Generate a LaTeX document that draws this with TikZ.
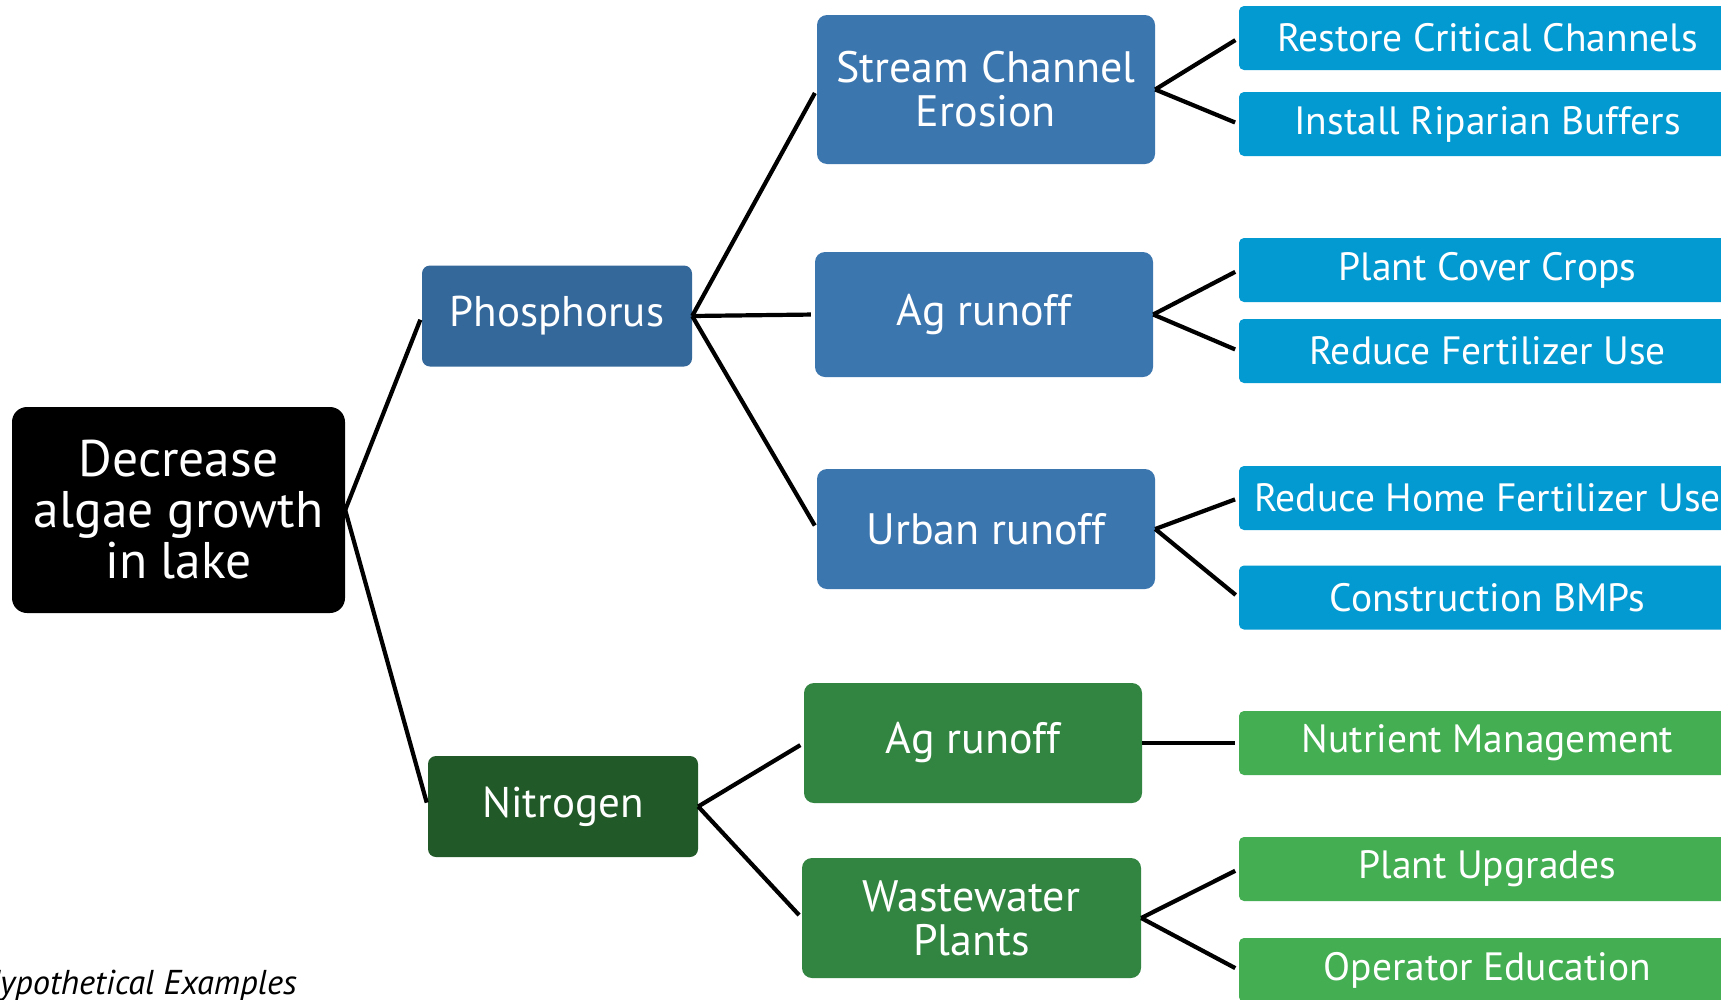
\documentclass[tikz,border=0pt]{standalone}
\usepackage{fontspec}
\setmainfont{PT Sans}
\definecolor{pblue}{HTML}{34679A}
\definecolor{mblue}{HTML}{3C76AF}
\definecolor{cyanleaf}{HTML}{0399D1}
\definecolor{ngreen}{HTML}{215A28}
\definecolor{mgreen}{HTML}{328541}
\definecolor{lgreen}{HTML}{43AE52}
\begin{document}
\begin{tikzpicture}[x=1pt,y=-1pt,
  rootbox/.style={fill=black, text=white, rounded corners=15pt, align=center,
    font=\fontsize{51.5}{51}\selectfont, minimum width=333pt, minimum height=206pt, inner sep=0pt},
  lvlone/.style={rounded corners=8pt, text=white, align=center,
    font=\fontsize{43}{44}\selectfont, minimum width=270pt, minimum height=101pt, inner sep=0pt},
  lvltwo/.style={rounded corners=10pt, text=white, align=center,
    font=\fontsize{44}{44}\selectfont, minimum width=338pt, minimum height=120pt, inner sep=0pt},
  leaf/.style={rounded corners=5pt, text=white, align=center,
    font=\fontsize{39.5}{40}\selectfont, minimum width=497pt, minimum height=64pt, inner sep=0pt},
  link/.style={line width=4.2pt, shorten >=4pt}]
\fill[white] (0,0) rectangle (1721,999);
\useasboundingbox (0,0) rectangle (1721,999);

\node[rootbox] (root) at (178.5,510) {Decrease\\algae growth\\in lake};

\node[lvlone, fill=pblue] (P) at (557,316) {Phosphorus};
\node[lvlone, fill=ngreen] (N) at (563,806.5) {Nitrogen};

\node[lvltwo, fill=mblue, minimum height=149pt] (S) at (986,89.5) {Stream Channel\\Erosion};
\node[lvltwo, fill=mblue, minimum height=125pt] (AP) at (984,314.5) {Ag runoff};
\node[lvltwo, fill=mblue] (U) at (986,529) {Urban runoff};
\node[lvltwo, fill=mgreen] (AN) at (973,743) {Ag runoff};
\node[lvltwo, fill=mgreen, minimum width=339pt] (W) at (971.5,918) {Wastewater\\Plants};

\node[leaf, fill=cyanleaf] (l1) at (1487.5,38) {Restore Critical Channels};
\node[leaf, fill=cyanleaf] (l2) at (1487.5,124) {Install Riparian Buffers};
\node[leaf, fill=cyanleaf] (l3) at (1487.5,270) {Plant Cover Crops};
\node[leaf, fill=cyanleaf] (l4) at (1487.5,351) {Reduce Fertilizer Use};
\node[leaf, fill=cyanleaf] (l5) at (1487.5,498) {Reduce Home Fertilizer Use};
\node[leaf, fill=cyanleaf] (l6) at (1487.5,597.5) {Construction BMPs};
\node[leaf, fill=lgreen] (l7) at (1487.5,743) {Nutrient Management};
\node[leaf, fill=lgreen] (l8) at (1487.5,869) {Plant Upgrades};
\node[leaf, fill=lgreen] (l9) at (1487.5,970) {Operator Education};

\node[anchor=base east, inner sep=0pt, font=\itshape\fontsize{34.5}{34}\selectfont] (note) at (297,994) {Hypothetical Examples};

\draw[link] (root.east) -- (P.west);
\draw[link] (root.east) -- (N.west);
\draw[link] (P.east) -- (S.west);
\draw[link] (P.east) -- (AP.west);
\draw[link] (P.east) -- (U.west);
\draw[link] (N.east) -- (AN.west);
\draw[link] (N.east) -- (W.west);
\draw[link] (S.east) -- (l1.west);
\draw[link] (S.east) -- (l2.west);
\draw[link] (AP.east) -- (l3.west);
\draw[link] (AP.east) -- (l4.west);
\draw[link] (U.east) -- (l5.west);
\draw[link] (U.east) -- (l6.west);
\draw[link] (AN.east) -- (l7.west);
\draw[link] (W.east) -- (l8.west);
\draw[link] (W.east) -- (l9.west);
\end{tikzpicture}
\end{document}
